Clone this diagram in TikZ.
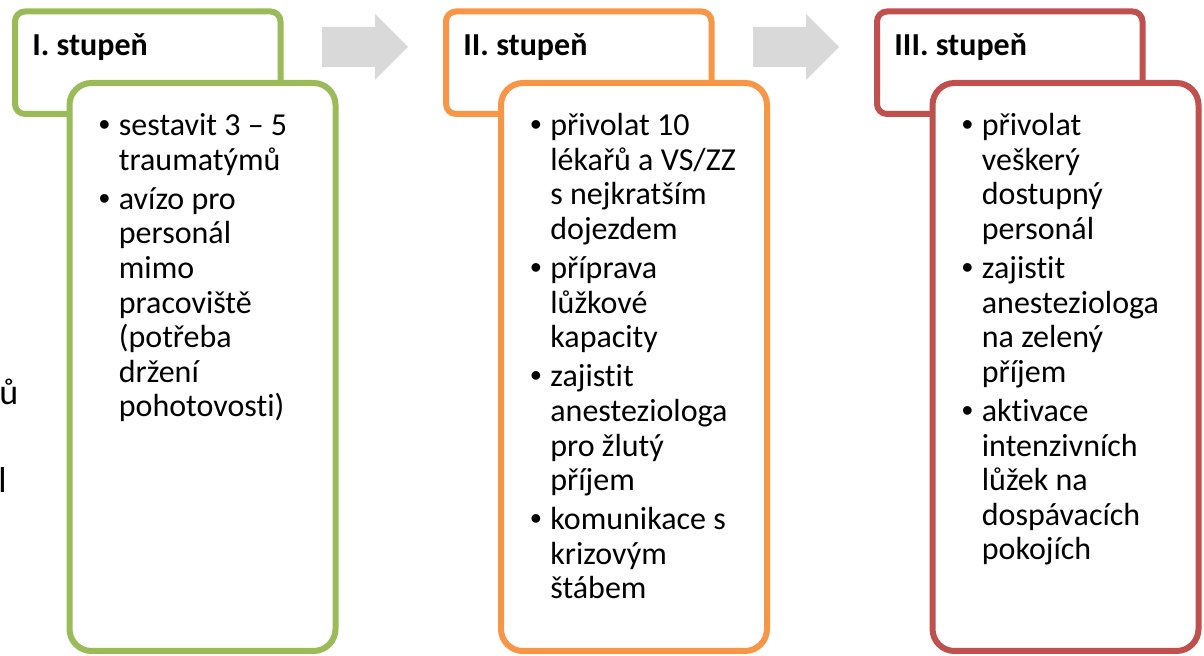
\documentclass[tikz,border=0pt]{standalone}
\usepackage{fontspec}
\setmainfont{Carlito}[Ligatures=NoCommon]
\newfontfamily\bulletfont{Liberation Sans}
\usetikzlibrary{positioning}

\definecolor{stageone}{HTML}{9BBB59}
\definecolor{stagetwo}{HTML}{F79646}
\definecolor{stagethree}{HTML}{C0504D}
\definecolor{arrowgray}{HTML}{D9D9D9}
\newcommand{\bodyfont}{\fontsize{16pt}{17.3pt}\selectfont}
\newcommand{\bul}{\hspace{0.5pt}{\bulletfont\symbol{"2022}}}

\begin{document}
\begin{tikzpicture}[x=0.5pt,y=-0.5pt]
\tikzstyle{block_head} = [rectangle, draw, line width=3pt, fill=white,
rounded corners=5pt, minimum width=132.75pt, minimum height=51.25pt,
outer sep=0pt, inner sep=0pt]
\tikzstyle{block_body} = [rectangle, draw, line width=3pt, fill=white,
rounded corners=11pt, minimum width=133pt, minimum height=284pt,
outer sep=0pt, inner sep=0pt]
\tikzstyle{head_text} = [anchor=base west, inner sep=0pt, font=\bodyfont\bfseries]
\tikzstyle{body_text} = [anchor=north west, inner sep=0pt, font=\bodyfont];
\tikzstyle{step_arrow} = [fill=arrowgray, draw=none];

\useasboundingbox (0,0) rectangle (1204,656);

% cut off text at the left edge
\node [anchor=base west, inner sep=0pt, font=\fontsize{18pt}{20pt}\selectfont] (cutA) at (-1,405) {ů};
\node [anchor=base west, inner sep=0pt, font=\fontsize{18pt}{20pt}\selectfont] (cutB) at (-2,493) {l};

% headers
\node [block_head, draw=stageone] (head1) at (147.75,62.75) {};
\node [block_head, draw=stagetwo, right=82.75pt of head1] (head2) {};
\node [block_head, draw=stagethree, right=82.75pt of head2] (head3) {};

% bodies
\node [block_body, draw=stageone] (body1) at (202.5,367) {};
\node [block_body, draw=stagetwo, right=82.75pt of body1] (body2) {};
\node [block_body, draw=stagethree, right=82.75pt of body2] (body3) {};

% arrows between the steps
\coordinate (arr1) at (322,47);
\coordinate (arr2) at (753,47);
\fill [step_arrow] (arr1) ++(0,-20) -- ++(53,0) -- ++(0,-13) -- ++(33,33)
  -- ++(-33,33) -- ++(0,-13) -- ++(-53,0) -- cycle;
\fill [step_arrow] (arr2) ++(0,-20) -- ++(53,0) -- ++(0,-13) -- ++(33,33)
  -- ++(-33,33) -- ++(0,-13) -- ++(-53,0) -- cycle;

% titles
\node [head_text] (title1) at ([shift={(17,44)}]head1.north west) {I. stupeň};
\node [head_text] (title2) at ([shift={(17,44)}]head2.north west) {II. stupeň};
\node [head_text] (title3) at ([shift={(17,44)}]head3.north west) {III. stupeň};

% step 1
\node [body_text] (list1) at ([shift={(28,28)}]body1.north west) {%
\begin{tabular}{@{}p{10.5pt}@{}l@{}}
\bul & sestavit 3 – 5\\
 & traumatýmů\\[2.25pt]
\bul & avízo pro\\
 & personál\\
 & mimo\\
 & pracoviště\\
 & (potřeba\\
 & držení\\
 & pohotovosti)
\end{tabular}};
% step 2
\node [body_text] (list2) at ([shift={(28,28)}]body2.north west) {%
\begin{tabular}{@{}p{10.5pt}@{}l@{}}
\bul & přivolat 10\\
 & lékařů a VS/ZZ\\
 & s nejkratším\\
 & dojezdem\\[2.25pt]
\bul & příprava\\
 & lůžkové\\
 & kapacity\\[2.25pt]
\bul & zajistit\\
 & anesteziologa\\
 & pro žlutý\\
 & příjem\\[2.25pt]
\bul & komunikace s\\
 & krizovým\\
 & štábem
\end{tabular}};
% step 3
\node [body_text] (list3) at ([shift={(28,28)}]body3.north west) {%
\begin{tabular}{@{}p{10.5pt}@{}l@{}}
\bul & přivolat\\
 & veškerý\\
 & dostupný\\
 & personál\\[2.25pt]
\bul & zajistit\\
 & anesteziologa\\
 & na zelený\\
 & příjem\\[2.25pt]
\bul & aktivace\\
 & intenzivních\\
 & lůžek na\\
 & dospávacích\\
 & pokojích
\end{tabular}};
\end{tikzpicture}
\end{document}
